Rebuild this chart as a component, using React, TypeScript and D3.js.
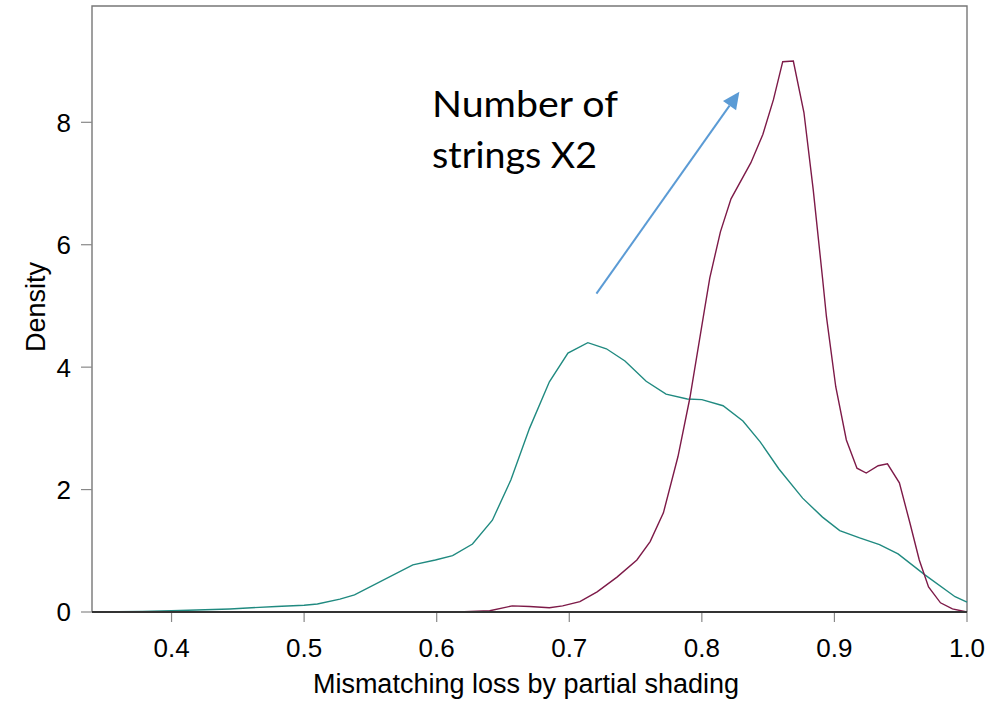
import React from "react";
import * as d3 from "d3";

const W = 1007;
const H = 701;

// Teal density (original configuration)
const tealX = [0.340, 0.378, 0.400, 0.444, 0.479, 0.500, 0.510, 0.527, 0.538, 0.582, 0.599, 0.612, 0.627, 0.642, 0.656, 0.670, 0.685, 0.699, 0.714, 0.728, 0.742, 0.758, 0.773, 0.789, 0.800, 0.816, 0.831, 0.844, 0.858, 0.876, 0.891, 0.904, 0.919, 0.934, 0.948, 0.968, 0.991, 1.000];
const tealY = [0.00, 0.01, 0.02, 0.05, 0.09, 0.11, 0.13, 0.21, 0.28, 0.77, 0.85, 0.92, 1.11, 1.50, 2.16, 3.00, 3.76, 4.23, 4.40, 4.30, 4.10, 3.77, 3.56, 3.48, 3.47, 3.37, 3.12, 2.78, 2.34, 1.86, 1.55, 1.33, 1.21, 1.10, 0.95, 0.61, 0.25, 0.16];

// Maroon density (number of strings x2)
const maroonX = [0.616, 0.640, 0.657, 0.670, 0.685, 0.695, 0.708, 0.721, 0.736, 0.751, 0.761, 0.771, 0.782, 0.791, 0.802, 0.806, 0.814, 0.822, 0.837, 0.846, 0.854, 0.861, 0.869, 0.877, 0.884, 0.891, 0.894, 0.901, 0.909, 0.917, 0.924, 0.933, 0.940, 0.949, 0.957, 0.964, 0.971, 0.980, 0.989, 1.000];
const maroonY = [0.00, 0.02, 0.10, 0.09, 0.07, 0.10, 0.17, 0.33, 0.57, 0.85, 1.15, 1.62, 2.54, 3.50, 4.94, 5.46, 6.21, 6.75, 7.34, 7.80, 8.37, 8.99, 9.00, 8.16, 6.90, 5.46, 4.82, 3.68, 2.81, 2.35, 2.27, 2.39, 2.42, 2.11, 1.45, 0.85, 0.41, 0.15, 0.05, 0.00];

const xTicks = [0.4, 0.5, 0.6, 0.7, 0.8, 0.9, 1.0];
const yTicks = [0, 2, 4, 6, 8];

const xTitle = "Mismatching loss by partial shading";
const yTitle = "Density";
const noteLines = ["Number of", "strings X2"];
// arrow in data coordinates
const arrowFrom = [0.7205, 5.2];
const arrowTo = [0.8283, 8.5];

export default function App() {
  const left = 92, right = 967, top = 6, bottom = 612;
  const x = d3.scaleLinear().domain([0.34, 1.0]).range([left, right]);
  const y = d3.scaleLinear().domain([0, 9.9]).range([bottom, top]);

  const line = d3.line<[number, number]>().x(d => x(d[0])).y(d => y(d[1]));
  const teal = line(tealX.map((v, i) => [v, tealY[i]]));
  const maroon = line(maroonX.map((v, i) => [v, maroonY[i]]));

  const ax0 = x(arrowFrom[0]), ay0 = y(arrowFrom[1]);
  const ax1 = x(arrowTo[0]), ay1 = y(arrowTo[1]);
  const ang = Math.atan2(ay1 - ay0, ax1 - ax0);
  const headLen = 17, headW = 8;
  const bx = ax1 - headLen * Math.cos(ang), by = ay1 - headLen * Math.sin(ang);
  const px = -Math.sin(ang), py = Math.cos(ang);
  const head = `M${ax1},${ay1}L${bx + px * headW},${by + py * headW}L${bx - px * headW},${by - py * headW}Z`;

  const font = "'Liberation Sans', Arial, sans-serif";
  return (
    <svg width={W} height={H} style={{ position: "absolute", left: 0, top: 0, background: "#fff" }}>
      <rect x={0} y={0} width={W} height={H} fill="#fff" />
      {/* frame */}
      <path d={`M${left},${bottom}V${top}H${right}V${bottom}`} fill="none" stroke="#777" strokeWidth={1.4} />
      {/* y ticks */}
      {yTicks.map(t => (
        <g key={"y" + t}>
          <line x1={left - 11} x2={left} y1={y(t)} y2={y(t)} stroke="#888" strokeWidth={1.2} />
          <text x={71} y={y(t)} dy="0.36em" textAnchor="end" fontFamily={font} fontSize={26} fill="#000">{t}</text>
        </g>
      ))}
      {/* x ticks */}
      {xTicks.map(t => (
        <g key={"x" + t}>
          <line x1={x(t)} x2={x(t)} y1={bottom} y2={bottom + 10} stroke="#888" strokeWidth={1.2} />
          <text x={x(t)} y={657} textAnchor="middle" fontFamily={font} fontSize={26} fill="#000">{t.toFixed(1)}</text>
        </g>
      ))}
      {/* curves */}
      <path d={teal ?? ""} fill="none" stroke="#208a80" strokeWidth={1.4} />
      <path d={maroon ?? ""} fill="none" stroke="#7d1a48" strokeWidth={1.4} />
      {/* baseline */}
      <line x1={left} x2={right} y1={bottom} y2={bottom} stroke="#333" strokeWidth={2} />
      {/* titles */}
      <text x={526} y={693} textAnchor="middle" fontFamily={font} fontSize={27} fill="#000">{xTitle}</text>
      <text transform={`translate(45,307) rotate(-90)`} textAnchor="middle" fontFamily={font} fontSize={27} fill="#000">{yTitle}</text>
      {/* annotation */}
      <line x1={ax0} y1={ay0} x2={bx} y2={by} stroke="#5b9bd5" strokeWidth={2} />
      <path d={head} fill="#5b9bd5" />
      {noteLines.map((s, i) => (
        <text key={s} x={432} y={117 + i * 51} fontFamily="Lato, 'Open Sans', sans-serif" fontSize={36} fill="#000"
          textLength={i === 0 ? 186 : 165} lengthAdjust="spacingAndGlyphs">{s}</text>
      ))}
    </svg>
  );
}
